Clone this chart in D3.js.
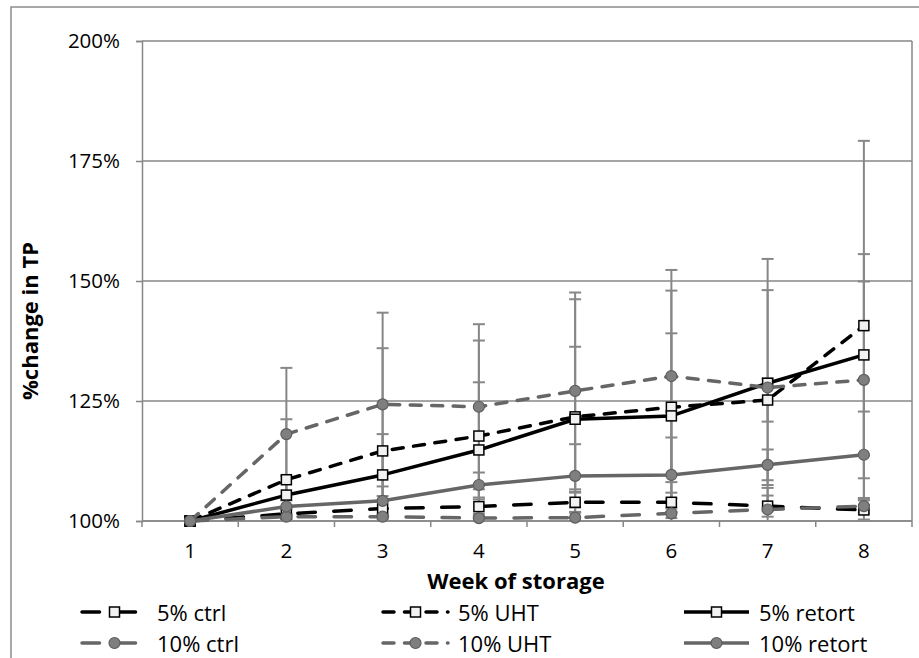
<!DOCTYPE html>
<html>
<head>
<meta charset="utf-8">
<script src="https://cdn.jsdelivr.net/npm/d3@7"></script>
<style>
  html, body { margin: 0; padding: 0; background: #fff; }
  svg { display: block; }
  text { font-family: "Open Sans", Lato, sans-serif; fill: #000; }
</style>
</head>
<body>
<svg id="chart" width="919" height="658"></svg>
<script>
// ---- data ----
const weeks = [1, 2, 3, 4, 5, 6, 7, 8];
const yTicks = [100, 125, 150, 175, 200];
const seriesNames = ["5% ctrl", "5% UHT", "5% retort", "10% ctrl", "10% UHT", "10% retort"];

const ctrl5    = [100, 101.5, 102.6, 103.0, 103.9, 103.9, 103.1, 102.3];
const uht5     = [100, 108.6, 114.6, 117.7, 121.7, 123.7, 125.2, 140.7];
const retort5  = [100, 105.4, 109.6, 114.8, 121.2, 121.9, 128.7, 134.6];
const ctrl10   = [100, 100.9, 100.9, 100.6, 100.7, 101.6, 102.4, 103.1];
const uht10    = [100, 118.1, 124.3, 123.8, 127.1, 130.2, 127.8, 129.4];
const retort10 = [100, 103.0, 104.2, 107.5, 109.4, 109.6, 111.7, 113.8];

const ctrl5Err    = [0, 1.0, 1.5, 1.5, 2.0, 2.0, 2.2, 2.0];
const uht5Err     = [0, 12.6, 21.4, 19.9, 24.5, 24.3, 4.5, 38.5];
const retort5Err  = [0, 4.0, 8.5, 14.1, 15.1, 17.2, 25.9, 21.0];
const ctrl10Err   = [0, 0.5, 0.5, 0.5, 1.0, 1.0, 4.5, 1.5];
const uht10Err    = [0, 13.8, 19.1, 17.2, 20.5, 22.1, 20.3, 20.5];
const retort10Err = [0, 2.0, 3.0, 2.6, 6.6, 7.8, 3.2, 9.0];

const seriesValues = [ctrl5, uht5, retort5, ctrl10, uht10, retort10];
const seriesErrors = [ctrl5Err, uht5Err, retort5Err, ctrl10Err, uht10Err, retort10Err];

// ---- styles ----
const BLACK = "#000000", GRAY = "#666666";
const GRID = "#878787";
const LONG_DASH = "17.5,18.5", DASH = "11,10.5";
const styles = [
  { color: BLACK, dash: LONG_DASH, marker: "square" },
  { color: BLACK, dash: DASH,      marker: "square" },
  { color: BLACK, dash: null,      marker: "square" },
  { color: GRAY,  dash: LONG_DASH, marker: "circle" },
  { color: GRAY,  dash: DASH,      marker: "circle" },
  { color: GRAY,  dash: null,      marker: "circle" }
];

const svg = d3.select("#chart");
const pLeft = 142, pRight = 912, pTop = 41, pBottom = 521;

// outer chart border (cropped at right/bottom)
svg.append("rect").attr("x", 11).attr("y", 7).attr("width", 930).attr("height", 680)
  .attr("fill", "none").attr("stroke", "#8c8c8c").attr("stroke-width", 1.5);

const x = d3.scalePoint().domain(weeks).range([pLeft, pRight]).padding(0.5);
const xBand = d3.scaleBand().domain(weeks).range([pLeft, pRight]);
const y = d3.scaleLinear().domain([100, 200]).range([pBottom, pTop]);

// gridlines
svg.append("g").selectAll("line").data(yTicks).join("line")
  .attr("x1", pLeft).attr("x2", pRight)
  .attr("y1", d => y(d)).attr("y2", d => y(d))
  .attr("stroke", GRID).attr("stroke-width", 1.5);
// right plot border
svg.append("line").attr("x1", pRight).attr("x2", pRight).attr("y1", pTop).attr("y2", pBottom)
  .attr("stroke", GRID).attr("stroke-width", 1.5);

// y axis
const yAxis = svg.append("g").attr("transform", `translate(${pLeft},0)`)
  .call(d3.axisLeft(y).tickValues(yTicks).tickFormat(d => d + "%").tickSize(6).tickPadding(16));
yAxis.select(".domain").attr("stroke", GRID).attr("stroke-width", 1.5);
yAxis.selectAll(".tick line").attr("stroke", GRID).attr("stroke-width", 1.5);
yAxis.selectAll("text").style("font-size", "20.5px").style("font-family", "'Open Sans', sans-serif").attr("fill", "#000");

// x axis (category boundaries as ticks)
const boundaries = d3.range(weeks.length + 1).map(i => pLeft + i * xBand.step());
const xAxisG = svg.append("g");
xAxisG.append("line").attr("x1", pLeft).attr("x2", pRight).attr("y1", pBottom).attr("y2", pBottom)
  .attr("stroke", GRID).attr("stroke-width", 1.5);
xAxisG.selectAll("line.tk").data(boundaries).join("line").attr("class", "tk")
  .attr("x1", d => d).attr("x2", d => d).attr("y1", pBottom).attr("y2", pBottom + 6)
  .attr("stroke", GRID).attr("stroke-width", 1.5);
xAxisG.selectAll("text").data(weeks).join("text")
  .attr("x", d => x(d)).attr("y", 558).attr("text-anchor", "middle")
  .style("font-size", "20.5px").text(d => d);

// axis titles
svg.append("text").attr("x", 516).attr("y", 589).attr("text-anchor", "middle")
  .style("font-size", "22px").style("font-weight", "bold").text("Week of storage");
svg.append("text").attr("transform", "translate(38,321) rotate(-90)").attr("text-anchor", "middle")
  .style("font-size", "22px").style("font-weight", "bold").text("%change in TP");

// error bars
const errG = svg.append("g");
seriesValues.forEach((vals, si) => {
  const errs = seriesErrors[si];
  weeks.forEach((w, i) => {
    if (!errs[i]) return;
    const hi = vals[i] + errs[i], lo = vals[i] - errs[i];
    const cx = x(w);
    const hiC = Math.min(hi, 200), loC = Math.max(lo, 100);
    errG.append("line").attr("x1", cx).attr("x2", cx).attr("y1", y(hiC)).attr("y2", y(loC))
      .attr("stroke", GRID).attr("stroke-width", 2);
    [hi, lo].forEach(v => {
      if (v >= 100 && v <= 200) {
        errG.append("line").attr("x1", cx - 6).attr("x2", cx + 6).attr("y1", y(v)).attr("y2", y(v))
          .attr("stroke", GRID).attr("stroke-width", 2);
      }
    });
  });
});

// lines + markers
const line = d3.line().x((d, i) => x(weeks[i])).y(d => y(d));
function drawMarker(g, type, cx, cy) {
  if (type === "square") {
    g.append("rect").attr("x", cx - 5).attr("y", cy - 5).attr("width", 10).attr("height", 10)
      .attr("fill", "#f2f2f2").attr("stroke", "#000").attr("stroke-width", 1.5);
  } else {
    g.append("circle").attr("cx", cx).attr("cy", cy).attr("r", 5.5)
      .attr("fill", "#7f7f7f").attr("stroke", "#5e5e5e").attr("stroke-width", 1.2);
  }
}
seriesValues.forEach((vals, si) => {
  const st = styles[si];
  const g = svg.append("g");
  g.append("path").attr("d", line(vals)).attr("fill", "none")
    .attr("stroke", st.color).attr("stroke-width", 3.5)
    .attr("stroke-linecap", st.dash ? "round" : "butt").attr("stroke-linejoin", "round")
    .attr("stroke-dasharray", st.dash);
  vals.forEach((v, i) => drawMarker(g, st.marker, x(weeks[i]), y(v)));
});

// legend
const legCols = [157, 458, 759];
const legRows = [612, 643];
seriesNames.forEach((name, si) => {
  const st = styles[si];
  const tx = legCols[si % 3], ty = legRows[Math.floor(si / 3)];
  const g = svg.append("g");
  const x0 = tx - 75, x1 = tx - 10;
  g.append("line").attr("x1", x0).attr("x2", x1).attr("y1", ty).attr("y2", ty)
    .attr("stroke", st.color).attr("stroke-width", 3.5)
    .attr("stroke-linecap", st.dash ? "round" : "butt")
    .attr("stroke-dasharray", st.dash);
  drawMarker(g, st.marker, (x0 + x1) / 2, ty);
  g.append("text").attr("x", tx).attr("y", ty + 8.5).style("font-size", "22px").text(name);
});
</script>
</body>
</html>
